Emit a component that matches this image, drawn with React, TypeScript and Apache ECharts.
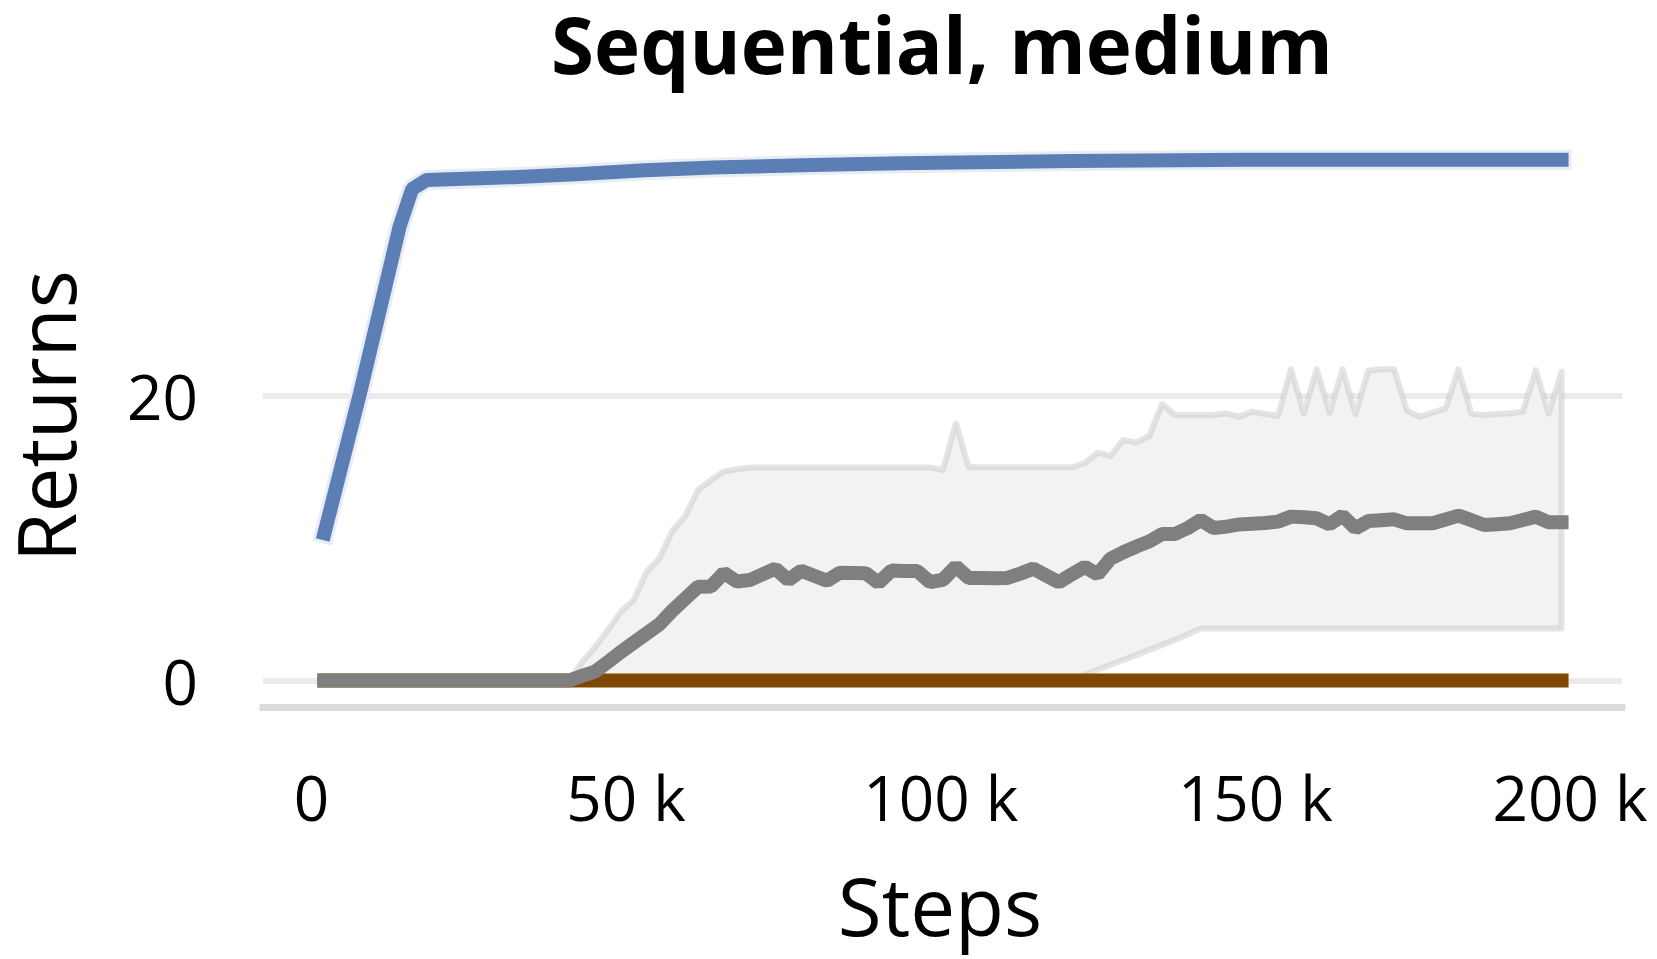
import React, { useEffect, useRef } from "react";
import * as echarts from "echarts";

// evaluation steps (every 2048 environment steps)
const steps = [
  2048, 4096, 6144, 8192, 10240, 12288, 14336, 16384, 18432, 20480,
  22528, 24576, 26624, 28672, 30720, 32768, 34816, 36864, 38912, 40960,
  43008, 45056, 47104, 49152, 51200, 53248, 55296, 57344, 59392, 61440,
  63488, 65536, 67584, 69632, 71680, 73728, 75776, 77824, 79872, 81920,
  83968, 86016, 88064, 90112, 92160, 94208, 96256, 98304, 100352, 102400,
  104448, 106496, 108544, 110592, 112640, 114688, 116736, 118784, 120832, 122880,
  124928, 126976, 129024, 131072, 133120, 135168, 137216, 139264, 141312, 143360,
  145408, 147456, 149504, 151552, 153600, 155648, 157696, 159744, 161792, 163840,
  165888, 167936, 169984, 172032, 174080, 176128, 178176, 180224, 182272, 184320,
  186368, 188416, 190464, 192512, 194560, 196608, 198656,
];

// gray mean returns
const meanReturns = [
  0, 0, 0, 0, 0, 0, 0, 0, 0, 0,
  0, 0, 0, 0, 0, 0, 0, 0, 0, 0,
  0.32, 0.62, 1.3, 2.0, 2.65, 3.3, 3.95, 4.9, 5.75, 6.58,
  6.6, 7.55, 6.95, 7.05, 7.45, 7.85, 7.05, 7.7, 7.35, 7.0,
  7.57, 7.55, 7.53, 6.85, 7.72, 7.68, 7.68, 6.9, 7.07, 8.0,
  7.2, 7.2, 7.18, 7.2, 7.5, 7.85, 7.37, 6.9, 7.45, 7.97,
  7.45, 8.55, 9.0, 9.4, 9.75, 10.28, 10.28, 10.7, 11.26, 10.7,
  10.8, 10.95, 11.0, 11.05, 11.15, 11.5, 11.45, 11.38, 10.96, 11.57,
  10.68, 11.19, 11.25, 11.31, 11.03, 11.03, 11.03, 11.3, 11.57, 11.25,
  10.91, 10.97, 11.03, 11.27, 11.5, 11.1, 11.1,
];

// gray band upper edge
const upperReturns = [
  0, 0, 0, 0, 0, 0, 0, 0, 0, 0,
  0, 0, 0, 0, 0, 0, 0, 0, 0, 0,
  1.3, 2.33, 3.54, 4.83, 5.65, 7.63, 8.57, 10.5, 11.54, 13.37,
  14.07, 14.66, 14.82, 14.95, 14.95, 14.95, 14.95, 14.95, 14.95, 14.95,
  14.95, 14.95, 14.95, 14.95, 14.95, 14.95, 14.95, 14.95, 14.77, 18.05,
  14.96, 14.96, 14.96, 14.96, 14.96, 14.96, 14.96, 14.96, 14.96, 15.25,
  15.99, 15.76, 16.88, 16.69, 17.16, 19.4, 18.63, 18.63, 18.63, 18.63,
  18.75, 18.5, 18.87, 18.7, 18.56, 21.84, 18.74, 21.84, 18.79, 21.84,
  18.7, 21.74, 21.84, 21.84, 18.94, 18.51, 18.8, 19.09, 21.84, 18.7,
  18.63, 18.7, 18.75, 18.87, 21.79, 18.72, 21.67,
];

// gray band lower edge
const lowerReturns = [
  0, 0, 0, 0, 0, 0, 0, 0, 0, 0,
  0, 0, 0, 0, 0, 0, 0, 0, 0, 0,
  0, 0, 0, 0, 0, 0, 0, 0, 0, 0,
  0, 0, 0, 0, 0, 0, 0, 0, 0, 0,
  0, 0, 0, 0, 0, 0, 0, 0, 0, 0,
  0, 0, 0, 0, 0, 0, 0, 0, 0, 0.4,
  0.75, 1.1, 1.45, 1.8, 2.15, 2.5, 2.85, 3.25, 3.65, 3.65,
  3.65, 3.65, 3.65, 3.65, 3.65, 3.65, 3.65, 3.65, 3.65, 3.65,
  3.65, 3.65, 3.65, 3.65, 3.65, 3.65, 3.65, 3.65, 3.65, 3.65,
  3.65, 3.65, 3.65, 3.65, 3.65, 3.65, 3.65,
];

// blue series
const blueSteps = [2048, 7700, 14000, 16000, 18300, 32000, 42700, 53000, 63800, 79700, 93500, 121000, 148700, 198656];
const blueReturns = [10.33, 20.15, 31.85, 34.5, 35.12, 35.32, 35.55, 35.8, 36.0, 36.18, 36.3, 36.46, 36.55, 36.55];

// brown series (flat)
const brownSteps = [2048, 198656];
const brownReturns = [0, 0];

const xTicks = [0, 50000, 100000, 150000, 200000];
const yTicks = [0, 20];

const FONT = '"Open Sans", "Noto Sans", sans-serif';

export default function App() {
  const ref = useRef<HTMLDivElement>(null);

  useEffect(() => {
    if (!ref.current) return;
    const chart = echarts.init(ref.current, null, { renderer: "svg" });

    const upperPts = steps.map((s, i) => [s, upperReturns[i]]);
    const lowerPts = steps.map((s, i) => [s, lowerReturns[i]]).reverse();
    const bandPts = [...upperPts, ...lowerPts];

    const meanData = steps.map((s, i) => [s, meanReturns[i]]);
    const blueData = blueSteps.map((s, i) => [s, blueReturns[i]]);
    const brownData = brownSteps.map((s, i) => [s, brownReturns[i]]);

    chart.setOption({
      animation: false,
      backgroundColor: "#ffffff",
      grid: { left: 263, right: 35, top: 110.5, bottom: 252, containLabel: false },
      xAxis: {
        type: "value",
        min: -7710,
        max: 208260,
        axisLine: {
          show: true,
          onZero: false,
          lineStyle: { color: "#dcdcdc", width: 7, cap: "square" },
        },
        axisTick: { show: false, customValues: xTicks },
        splitLine: { show: false },
        axisLabel: {
          customValues: xTicks,
          formatter: (v: number) => (v === 0 ? "0" : `${v / 1000} k`),
          fontFamily: FONT,
          fontSize: 62,
          color: "#000",
          margin: 59,
        },
      },
      yAxis: {
        type: "value",
        min: -1.8596,
        max: 40,
        axisLine: { show: false },
        axisTick: { show: false, customValues: yTicks },
        axisLabel: {
          customValues: yTicks,
          fontFamily: FONT,
          fontSize: 62,
          color: "#000",
          margin: 65,
        },
        splitLine: { show: true, lineStyle: { color: "#ebebeb", width: 6 } },
      },
      graphic: [
        {
          type: "text",
          x: 942,
          y: 44,
          style: {
            text: "Sequential, medium",
            font: `bold 78px ${FONT}`,
            lineHeight: 70,
            fill: "#000",
            textAlign: "center",
            textVerticalAlign: "middle",
            align: "center",
            verticalAlign: "middle",
          },
        },
        {
          type: "text",
          x: 940,
          y: 904,
          style: {
            text: "Steps",
            font: `80px ${FONT}`,
            fill: "#000",
            textAlign: "center",
            textVerticalAlign: "middle",
            align: "center",
            verticalAlign: "middle",
          },
        },
        {
          type: "text",
          x: 44,
          y: 416,
          rotation: Math.PI / 2,
          style: {
            text: "Returns",
            font: `80px ${FONT}`,
            lineHeight: 64,
            fill: "#000",
            textAlign: "center",
            textVerticalAlign: "middle",
            align: "center",
            verticalAlign: "middle",
          },
        },
      ],
      series: [
        {
          type: "custom",
          name: "band",
          silent: true,
          z: 1,
          data: [[0, 0]],
          encode: { x: 0, y: 1 },
          renderItem: (_params: any, api: any) => {
            const pts = bandPts.map((p) => api.coord(p));
            return {
              type: "polygon",
              shape: { points: pts },
              style: {
                fill: "#f2f2f2",
                stroke: "rgba(195,195,195,0.45)",
                lineWidth: 6,
                lineJoin: "round",
              },
            };
          },
        },
        {
          type: "line",
          name: "brown",
          silent: true,
          z: 2,
          symbol: "none",
          showSymbol: false,
          data: brownData,
          lineStyle: { color: "#7f4800", width: 14, cap: "square" },
        },
        {
          type: "line",
          name: "mean",
          silent: true,
          z: 3,
          symbol: "none",
          showSymbol: false,
          data: meanData,
          lineStyle: { color: "#7f7f7f", width: 14, cap: "square" },
        },
        {
          type: "line",
          name: "blueHalo",
          silent: true,
          z: 4,
          symbol: "none",
          showSymbol: false,
          data: blueData,
          lineStyle: { color: "#e8edf5", width: 20, cap: "square" },
        },
        {
          type: "line",
          name: "blue",
          silent: true,
          z: 5,
          symbol: "none",
          showSymbol: false,
          data: blueData,
          lineStyle: { color: "#5b7fb4", width: 14, cap: "square" },
        },
      ],
    });

    return () => chart.dispose();
  }, []);

  return (
    <div
      ref={ref}
      style={{ position: "fixed", left: 0, top: 0, width: 1657, height: 959, background: "#fff" }}
    />
  );
}
